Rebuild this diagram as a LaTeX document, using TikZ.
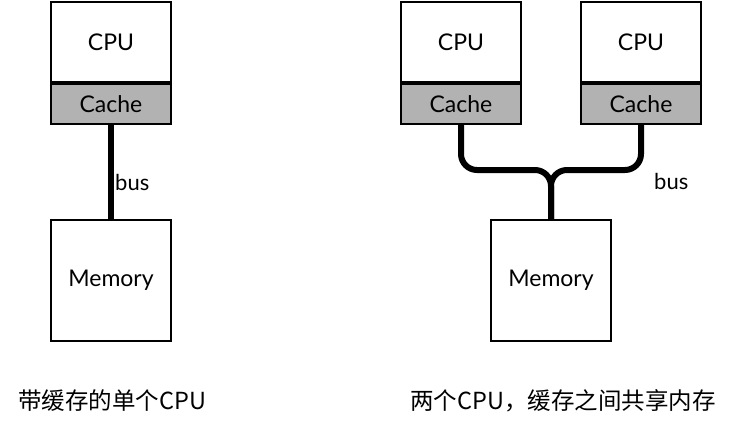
\documentclass[tikz,border=0pt]{standalone}
\usepackage{fontspec}
\setmainfont{Lato}
\newfontfamily\cjk{Noto Sans CJK SC}
\definecolor{cachegray}{RGB}{178,178,178}
\begin{document}
\begin{tikzpicture}[x=1pt,y=1pt,
  box/.style={draw=black,line width=2pt,minimum width=120pt,inner sep=0pt,font=\fontsize{23}{27}\selectfont},
  cpubox/.style={box,minimum height=80pt,fill=white},
  cachebox/.style={box,minimum height=40pt,fill=cachegray},
  membox/.style={box,minimum height=121pt,fill=white},
  bus/.style={line width=6pt,rounded corners=16pt},
  lbl/.style={font=\fontsize{22}{26}\selectfont,inner sep=0pt},
  captext/.style={font=\cjk\fontsize{23.5}{27}\selectfont,inner sep=0pt}]
\useasboundingbox (0,0) rectangle (734,424);
% left
\node[cpubox] (cpu1) at (111,382) {CPU};
\node[cachebox,anchor=north] (cache1) at (cpu1.south) {Cache};
\node[membox] (mem1) at (111,143.5) {Memory};
\draw[bus] (cache1.south) -- (mem1.north);
\node[lbl,anchor=west] (bus1) at (115,242) {bus};
% right
\node[cpubox] (cpu2) at (461,382) {CPU};
\node[cachebox,anchor=north] (cache2) at (cpu2.south) {Cache};
\node[cpubox] (cpu3) at (641,382) {CPU};
\node[cachebox,anchor=north] (cache3) at (cpu3.south) {Cache};
\node[membox] (mem2) at (551,143.5) {Memory};
\coordinate (j) at (551,254);
\draw[bus] (cache2.south) |- (j) -- (mem2.north);
\draw[bus] (cache3.south) |- (j) -- (mem2.north);
\node[lbl,anchor=west] (bus2) at (654,243) {bus};
% captions
\node[captext,anchor=west] (c1) at (18,23) {带缓存的单个CPU};
\node[captext,anchor=west] (c2) at (410,23) {两个CPU，缓存之间共享内存};
\end{tikzpicture}
\end{document}
